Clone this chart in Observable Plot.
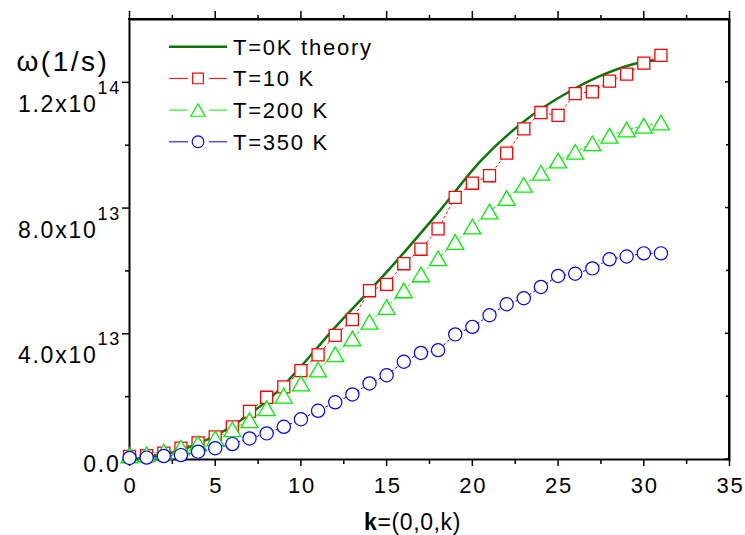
<!DOCTYPE html>
<html><head><meta charset="utf-8">
<script src="https://cdn.jsdelivr.net/npm/d3@7"></script>
<script src="https://cdn.jsdelivr.net/npm/@observablehq/plot@0.6"></script>
<style>
html,body{margin:0;padding:0;background:#fff;}
#chart{position:relative;width:745px;height:535px;overflow:hidden;}
#chart svg{display:block;}
.edge{position:absolute;background:#000;pointer-events:none;}
</style></head><body><div id="chart"></div>
<script>
// ---- data ----
const kValues = [0,1,2,3,4,5,6,7,8,9,10,11,12,13,14,15,16,17,18,19,20,21,22,23,24,25,26,27,28,29,30,31];
const omega10K = [1.0e12,1.2e12,2.0e12,3.6e12,5.3e12,7.2e12,1.04e13,1.53e13,1.98e13,2.31e13,2.83e13,3.33e13,3.95e13,4.45e13,5.37e13,5.57e13,6.23e13,6.69e13,7.34e13,8.34e13,8.79e13,9.03e13,9.75e13,1.052e14,1.104e14,1.095e14,1.164e14,1.170e14,1.204e14,1.226e14,1.261e14,1.286e14];
const omega200K = [1.3e12,1.7e12,2.5e12,3.8e12,5.1e12,6.7e12,9.6e12,1.25e13,1.63e13,2.03e13,2.42e13,2.86e13,3.35e13,3.85e13,4.38e13,4.85e13,5.38e13,5.89e13,6.40e13,6.92e13,7.41e13,7.89e13,8.32e13,8.74e13,9.12e13,9.51e13,9.79e13,1.006e14,1.030e14,1.050e14,1.062e14,1.072e14];
const omega350K = [0.5e12,0.6e12,1.1e12,1.4e12,2.5e12,3.6e12,4.9e12,6.7e12,8.3e12,1.04e13,1.28e13,1.55e13,1.82e13,2.07e13,2.42e13,2.68e13,3.11e13,3.39e13,3.48e13,3.98e13,4.22e13,4.59e13,4.94e13,5.13e13,5.49e13,5.84e13,5.91e13,6.08e13,6.37e13,6.46e13,6.56e13,6.56e13];
const theoryK = [0,2.7,5.6,8.3,12.1,15.6,18.1,20.5,22.8,25.9,27.7,29.6,30.7];
const theoryOmega = [0,2.5e12,9.4e12,2.0e13,4.27e13,6.33e13,7.92e13,9.51e13,1.067e14,1.178e14,1.226e14,1.261e14,1.27e14];
const seriesNames = ["T=0K theory","T=10 K","T=200 K","T=350 K"];
const seriesColors = ["#0a760a","#ff0000","#00ee00","#0000ff"];
const xDomain = [0,35];
const yDomain = [0,1.4e14];
const xMajorTicks = [0,5,10,15,20,25,30,35];
const xMinorTicks = [2.5,7.5,12.5,17.5,22.5,27.5,32.5];
const yMajorTicks = [0,4e13,8e13,1.2e14];
const yMinorTicks = [2e13,6e13,1e14];
const yTickMantissa = ["0.0","4.0x10","8.0x10","1.2x10"];
const yTickExponent = ["","13","13","14"];
const yTitle = "ω(1/s)";
const xTitleBold = "k";
const xTitleRest = "=(0,0,k)";

// ---- tables ----
const t10 = kValues.map((k,i)=>({k, w: omega10K[i]}));
const t200 = kValues.map((k,i)=>({k, w: omega200K[i]}));
const t350 = kValues.map((k,i)=>({k, w: omega350K[i]}));
const theory = theoryK.map((k,i)=>({k, w: theoryOmega[i]}));
const yTicks = yMajorTicks.map((v,i)=>({v, m: yTickMantissa[i], e: yTickExponent[i]}));

const noText = {fill: null, label: null, strokeWidth: 1.5};
const plot = Plot.plot({
  width: 745, height: 535,
  marginLeft: 129, marginRight: 16, marginTop: 19, marginBottom: 76,
  x: {domain: xDomain},
  y: {domain: yDomain},
  style: {background: "white", color: "black", fontFamily: "Liberation Sans, Arial, sans-serif"},
  marks: [
    Plot.frame({stroke: "black", strokeWidth: 2}),
    Plot.axisX({ticks: xMajorTicks, tickSize: 7, ...noText}),
    Plot.axisX({ticks: xMinorTicks, tickSize: 5, ...noText}),
    Plot.axisX({anchor: "top", ticks: xMajorTicks, tickSize: 9, ...noText}),
    Plot.axisX({anchor: "top", ticks: xMinorTicks, tickSize: 5, ...noText}),
    Plot.axisY({ticks: yMajorTicks, tickSize: 7, ...noText}),
    Plot.axisY({ticks: yMinorTicks, tickSize: 4, ...noText}),
    // data
    Plot.line(theory, {x: "k", y: "w", stroke: seriesColors[0], strokeWidth: 2.5, curve: "monotone-x"}),
    Plot.line(t10, {x: "k", y: "w", stroke: seriesColors[1], strokeWidth: 1, strokeDasharray: "2,3"}),
    Plot.dot(t10, {x: "k", y: "w", symbol: "square", r: 6.8, stroke: seriesColors[1], fill: "white", strokeWidth: 1.3}),
    Plot.line(t200, {x: "k", y: "w", stroke: seriesColors[2], strokeWidth: 1, strokeDasharray: "2,3"}),
    Plot.dot(t200, {x: "k", y: "w", symbol: "triangle", r: 6.3, dy: 2.45, stroke: seriesColors[2], fill: "white", strokeWidth: 1.3}),
    Plot.line(t350, {x: "k", y: "w", stroke: seriesColors[3], strokeWidth: 1, strokeDasharray: "2,3"}),
    Plot.dot(t350, {x: "k", y: "w", symbol: "circle", r: 6.6, stroke: seriesColors[3], fill: "white", strokeWidth: 1.2}),
    // tick labels
    Plot.text(yTicks.filter(d=>d.e), {y: "v", frameAnchor: "left", text: "m", textAnchor: "end", lineAnchor: "bottom", dx: -32, dy: 29.5, fontSize: 23}),
    Plot.text(yTicks.filter(d=>d.e), {y: "v", frameAnchor: "left", text: "e", textAnchor: "start", lineAnchor: "bottom", dx: -32, dy: 11.5, fontSize: 18}),
    Plot.text(yTicks.filter(d=>!d.e), {y: "v", frameAnchor: "left", text: "m", textAnchor: "end", lineAnchor: "bottom", dx: -9, dy: 12.7, fontSize: 23}),
    Plot.text(xMajorTicks, {x: d=>d, frameAnchor: "bottom", text: d=>String(d), textAnchor: "middle", lineAnchor: "bottom", dx: 1, dy: 33, fontSize: 22}),
    // axis titles
    Plot.text([yTitle], {frameAnchor: "top-left", text: d=>d, textAnchor: "start", lineAnchor: "bottom", dx: -113, dy: 51, fontSize: 28}),
    Plot.text([xTitleBold], {frameAnchor: "bottom", text: d=>d, textAnchor: "end", lineAnchor: "bottom", dx: -52, dy: 70.5, fontSize: 23, fontWeight: "bold"}),
    Plot.text([xTitleRest], {frameAnchor: "bottom", text: d=>d, textAnchor: "start", lineAnchor: "bottom", dx: -52, dy: 70.5, fontSize: 23})
  ]
});

const svg = d3.select(plot);
const sx = plot.scale("x"), sy = plot.scale("y");
const X0 = sx.apply(xDomain[0]), X1 = sx.apply(xDomain[1]);
const Y0 = sy.apply(yDomain[0]), Y1 = sy.apply(yDomain[1]);
// inward ticks on the right edge
const tg = svg.append("g").attr("stroke", "black").attr("stroke-width", 1.5);
yMajorTicks.forEach(v => { const y = sy.apply(v); tg.append("line").attr("x1", X1).attr("x2", X1 - 4).attr("y1", y).attr("y2", y); });
yMinorTicks.forEach(v => { const y = sy.apply(v); tg.append("line").attr("x1", X1).attr("x2", X1 - 3).attr("y1", y).attr("y2", y); });

// letter spacing
svg.selectAll("text").style("letter-spacing", "1.75px");
svg.selectAll("text").each(function(){
  const t = this.textContent;
  if (t === yTitle) d3.select(this).style("letter-spacing", "2.5px");
  if (t === xTitleBold || t === xTitleRest) d3.select(this).style("letter-spacing", "0.6px");
});

// legend (inside plot, top-left)
const lg = svg.append("g").attr("class", "legend");
const symbols = [null, d3.symbolSquare, d3.symbolTriangle, d3.symbolCircle];
const symSizes = [0, 114, 88.6, 107.5];
const symDy = [0, 0, 2, 0];
seriesNames.forEach((name, i) => {
  const y = 46.7 + 31.7 * i;
  if (i === 0) {
    lg.append("line").attr("x1", 169).attr("x2", 227).attr("y1", y).attr("y2", y)
      .attr("stroke", seriesColors[0]).attr("stroke-width", 2.5);
  } else {
    lg.append("line").attr("x1", 169).attr("x2", 188).attr("y1", y).attr("y2", y)
      .attr("stroke", seriesColors[i]).attr("stroke-width", 1);
    lg.append("line").attr("x1", 209).attr("x2", 227).attr("y1", y).attr("y2", y)
      .attr("stroke", seriesColors[i]).attr("stroke-width", 1);
    lg.append("path").attr("d", d3.symbol(symbols[i], symSizes[i])())
      .attr("transform", `translate(198,${y + symDy[i]})`)
      .attr("fill", "white").attr("stroke", seriesColors[i]).attr("stroke-width", 1.2);
  }
  lg.append("text").attr("x", 233).attr("y", y + 7.9).attr("font-size", 22)
    .attr("text-anchor", "start").attr("fill", "black")
    .style("font-family", "Liberation Sans, Arial, sans-serif").style("letter-spacing", "1.75px").text(name);
});

const chart = document.getElementById("chart");
chart.appendChild(plot);
// frame edges as HTML overlay, placed from the plot's own scales
const edges = [
  {left: X0 - 1, top: Y1 - 1, width: X1 - X0 + 2, height: 2},
  {left: X1 - 1, top: Y1 - 1, width: 2, height: Y0 - Y1 + 2}
];
edges.forEach(e => {
  const d = document.createElement("div");
  d.className = "edge";
  d.style.left = e.left + "px"; d.style.top = e.top + "px";
  d.style.width = e.width + "px"; d.style.height = e.height + "px";
  chart.appendChild(d);
});
</script>
</body></html>
